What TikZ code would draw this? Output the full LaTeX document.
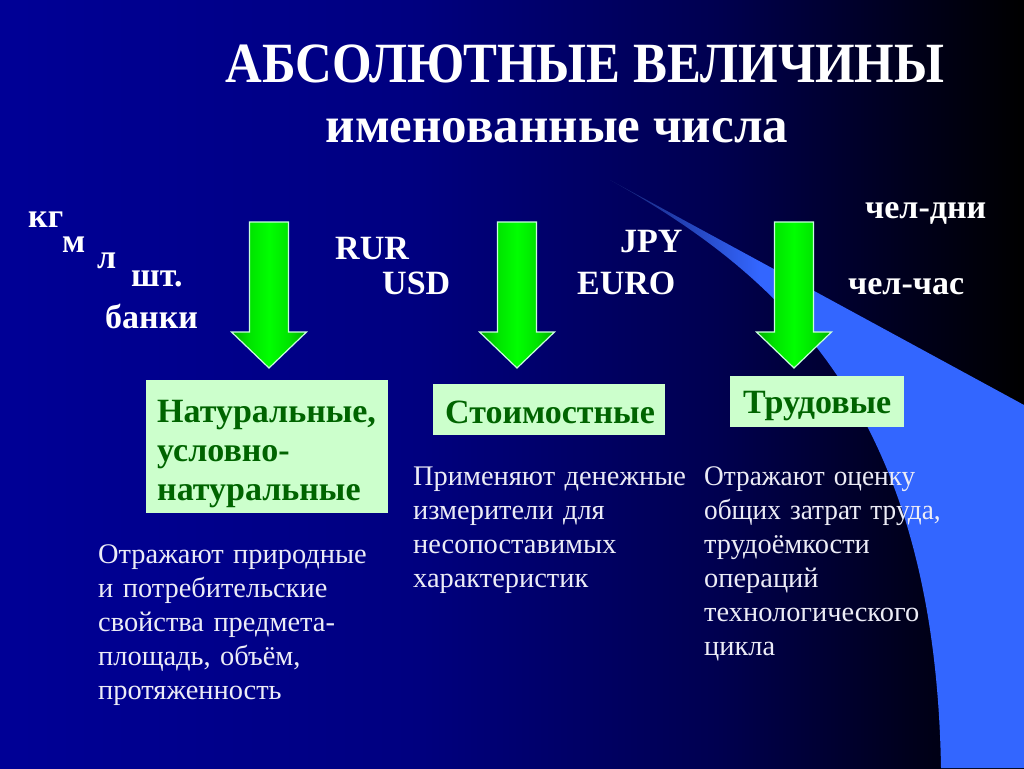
\documentclass[tikz,border=0pt]{standalone}
\usepackage{fontspec}
\usepackage{graphicx}
\setmainfont{Liberation Serif}
\definecolor{bgA}{RGB}{0,0,150}
\definecolor{bgB}{RGB}{0,0,128}
\definecolor{bgC}{RGB}{0,0,80}
\definecolor{bgD}{RGB}{0,0,25}
\definecolor{swA}{RGB}{20,30,110}
\definecolor{swB}{RGB}{51,102,255}
\definecolor{boxfill}{RGB}{204,255,204}
\definecolor{boxink}{RGB}{0,100,0}
\definecolor{arrA}{RGB}{0,175,0}
\definecolor{arrM}{RGB}{0,228,0}
\definecolor{arrB}{RGB}{0,255,0}
\definecolor{arredge}{RGB}{200,255,220}
\definecolor{descink}{RGB}{236,236,246}
\pgfdeclarehorizontalshading{bgshade}{100bp}{color(0bp)=(bgA); color(25bp)=(bgA); color(45bp)=(bgB); color(60bp)=(bgC); color(70bp)=(bgD); color(75bp)=(black); color(100bp)=(black)}
\pgfdeclarehorizontalshading{swshade}{100bp}{color(0bp)=(swA); color(25bp)=(swA); color(43bp)=(swB); color(100bp)=(swB)}
\pgfdeclarehorizontalshading{arrshade}{100bp}{color(0bp)=(arrA); color(25bp)=(arrA); color(37bp)=(arrM); color(50bp)=(arrB); color(63bp)=(arrM); color(75bp)=(arrA); color(100bp)=(arrA)}
\newcommand\grarrow[2]{%
  \shadedraw[arrowpoly] (#1-19.5,222) -- (#1+19.5,222) -- (#1+19.5,332) -- (#1+37.5,332)
    -- (#1,368) coordinate (#2) -- (#1-37.5,332) -- (#1-19.5,332) -- cycle;}
\tikzset{
  title/.style={text=white, font=\bfseries\fontsize{56.9}{62}\selectfont, inner sep=0, anchor=base},
  subtitle/.style={text=white, font=\bfseries\fontsize{51}{56}\selectfont, inner sep=0, anchor=base},
  lbl/.style={text=white, font=\bfseries\fontsize{34}{40}\selectfont, inner sep=0, anchor=base west},
  boxshape/.style={fill=boxfill, draw=none, inner sep=0, anchor=north west},
  boxtext/.style={text=boxink, font=\bfseries\fontsize{34}{39}\selectfont, inner sep=0, anchor=base west, align=left, text width=235},
  desc/.style={text=descink, font=\fontsize{28.4}{34}\selectfont, inner sep=0, anchor=base west, align=left, text width=330},
  arrowpoly/.style={draw=arredge, line width=1.2, shading=arrshade},
}
\begin{document}
\begin{tikzpicture}[x=1pt,y=-1pt]
\useasboundingbox (0,0) rectangle (1024,768);
\shade[shading=bgshade] (0,0) rectangle (1024,768);
% swoosh
\shade[shading=swshade] (610,180) -- (1024,405) -- (1024,768) -- (941,768)
  .. controls (935,420) and (790,280) .. (610,180) -- cycle;
% titles
\node[title] (t1) at (585,82) {\scalebox{0.894}[1]{АБСОЛЮТНЫЕ ВЕЛИЧИНЫ}};
\node[subtitle] (t2) at (557,142) {именованные числа};
% unit labels
\node[lbl] (kg) at (28,227) {кг};
\node[lbl] (m) at (62,252) {м};
\node[lbl] (l) at (97,268) {л};
\node[lbl] (sht) at (131,286) {шт.};
\node[lbl] (banki) at (105,328) {банки};
\node[lbl] (rur) at (335,259) {RUR};
\node[lbl] (usd) at (382,294) {USD};
\node[lbl] (jpy) at (620,252) {JPY};
\node[lbl] (euro) at (577,294) {EURO};
\node[lbl] (cdni) at (865,218) {чел-дни};
\node[lbl] (cchas) at (848,294) {чел-час};
% arrows
\grarrow{269}{a1}
\grarrow{517}{a2}
\grarrow{794}{a3}
% boxes
\node[boxshape, minimum width=242, minimum height=133] (b1) at (146,380) {};
\node[boxshape, minimum width=232, minimum height=51] (b2) at (433,384) {};
\node[boxshape, minimum width=174, minimum height=51] (b3) at (730,376) {};
\node[boxtext] (b1t) at (157,422) {Натуральные,\\условно-\\натуральные};
\node[boxtext] (b2t) at (445,423) {Стоимостные};
\node[boxtext] (b3t) at (743,413) {Трудовые};
% descriptions
\node[desc] (d1) at (98,563) {Отражают природные\\и потребительские\\свойства предмета-\\площадь, объём,\\протяженность};
\node[desc] (d2) at (413,485) {Применяют денежные\\измерители для\\несопоставимых\\характеристик};
\node[desc] (d3) at (704,485) {\scalebox{0.96}[1]{Отражают оценку}\\\scalebox{0.96}[1]{общих затрат труда,}\\трудоёмкости\\операций\\технологического\\цикла};
\end{tikzpicture}
\end{document}
